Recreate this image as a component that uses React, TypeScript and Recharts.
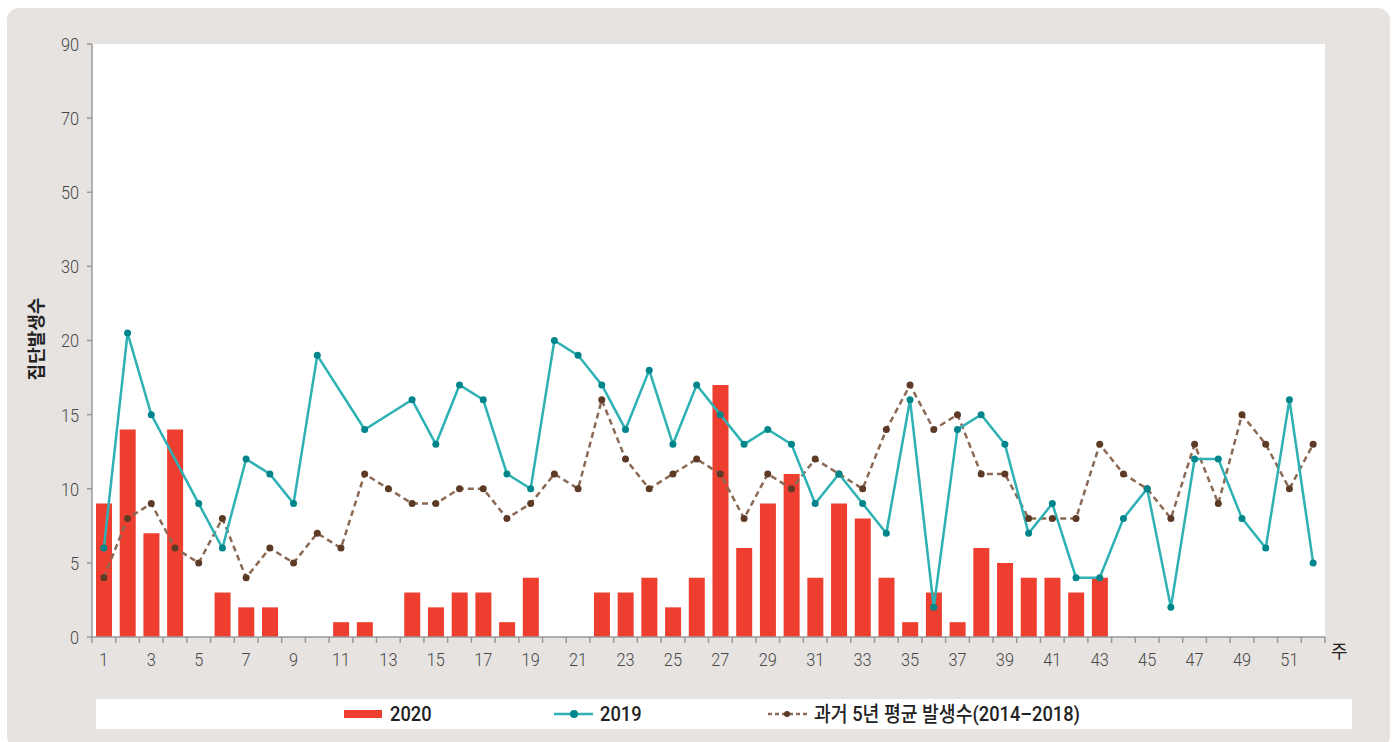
import { ComposedChart, Bar, Line, XAxis, YAxis, CartesianGrid } from 'recharts'

const weeks = Array.from({ length: 52 }, (_, i) => i + 1)

// 2020 weekly outbreaks (weeks 44+ not yet reported)
const cases2020: (number | null)[] = [
  9, 14, 7, 14, 0, 3, 2, 2, 0, 0, 1, 1, 0, 3, 2, 3, 3, 1, 4, 0,
  0, 3, 3, 4, 2, 4, 17, 6, 9, 11, 4, 9, 8, 4, 1, 3, 1, 6, 5, 4,
  4, 3, 4, null, null, null, null, null, null, null, null, null,
]

const cases2019: (number | null)[] = [
  6, 21, 15, null, 9, 6, 12, 11, 9, 19, null, 14, null, 16, 13, 17, 16, 11, 10, 20,
  19, 17, 14, 18, 13, 17, 15, 13, 14, 13, 9, 11, 9, 7, 16, 2, 14, 15, 13, 7,
  9, 4, 4, 8, 10, 2, 12, 12, 8, 6, 16, 5,
]

const avg5yr: number[] = [
  4, 8, 9, 6, 5, 8, 4, 6, 5, 7, 6, 11, 10, 9, 9, 10, 10, 8, 9, 11,
  10, 16, 12, 10, 11, 12, 11, 8, 11, 10, 12, 11, 10, 14, 17, 14, 15, 11, 11, 8,
  8, 8, 13, 11, 10, 8, 13, 9, 15, 13, 10, 13,
]

// y axis is piecewise: equal spacing between these tick values
const yTickLabels = [0, 5, 10, 15, 20, 30, 50, 70, 90]

function toAxis(v: number | null) {
  if (v == null) return null
  for (let i = 1; i < yTickLabels.length; i++) {
    const lo = yTickLabels[i - 1]
    const hi = yTickLabels[i]
    if (v <= hi) return i - 1 + (v - lo) / (hi - lo)
  }
  return yTickLabels.length - 1
}

const data = weeks.map((w, i) => ({
  week: String(w),
  c2020: toAxis(cases2020[i]),
  c2019: toAxis(cases2019[i]),
  avg: toAxis(avg5yr[i]),
}))

const tickFont = "Roboto, 'Open Sans', sans-serif"
const tickColor = '#474747'
const axisGray = '#9a9a9a'

function WeekTick(props: any) {
  const { x, y, payload, index, visibleTicksCount } = props
  const half = payload.offset ?? 0
  const axisY = y - 9
  const w = Number(payload.value)
  return (
    <g>
      <line x1={x - half} x2={x - half} y1={axisY} y2={axisY + 6} stroke={axisGray} strokeWidth={1.5} />
      {index === visibleTicksCount - 1 && (
        <line x1={x + half} x2={x + half} y1={axisY} y2={axisY + 6} stroke={axisGray} strokeWidth={1.5} />
      )}
      {w % 2 === 1 && (
        <text
          x={x}
          y={axisY + 29}
          textAnchor="middle"
          fill={tickColor}
          fontSize={19}
          fontWeight={300}
          fontFamily={tickFont}
          transform={`translate(${x} 0) scale(0.86 1) translate(${-x} 0)`}
        >
          {w}
        </text>
      )}
    </g>
  )
}

function ValueTick(props: any) {
  const { x, y, payload } = props
  return (
    <text
      x={x}
      y={y + 7}
      textAnchor="end"
      fill={tickColor}
      fontSize={19}
      fontWeight={300}
      fontFamily={tickFont}
      transform={`translate(${x} 0) scale(0.86 1) translate(${-x} 0)`}
    >
      {yTickLabels[payload.value]}
    </text>
  )
}

export default function App() {
  return (
    <div style={{ position: 'absolute', left: 0, top: 0, width: 1397, height: 742, overflow: 'hidden' }}>
      <div
        style={{
          position: 'absolute',
          left: 7,
          top: 8,
          width: 1383,
          height: 740,
          background: '#e6e3e1',
          borderRadius: 12,
        }}
      />
      <div style={{ position: 'absolute', left: 0, top: 0 }}>
        <ComposedChart
          width={1397}
          height={742}
          data={data}
          margin={{ top: 44, right: 72, bottom: 75, left: 30 }}
          barSize={16}
        >
          <CartesianGrid horizontal={false} vertical={false} fill="#ffffff" stroke="none" />
          <XAxis
            dataKey="week"
            interval={0}
            height={30}
            tickLine={false}
            tickSize={5}
            tickMargin={4}
            axisLine={{ stroke: axisGray, strokeWidth: 1.5 }}
            tick={<WeekTick />}
            label={{ value: '주', position: 'right', offset: 6, fill: '#222', fontSize: 18, fontFamily: "'Noto Sans CJK KR', sans-serif" }}
          />
          <YAxis
            width={62}
            domain={[0, yTickLabels.length - 1]}
            ticks={yTickLabels.map((_, i) => i)}
            interval={0}
            tickSize={5}
            tickMargin={8}
            axisLine={{ stroke: axisGray, strokeWidth: 1.5 }}
            tickLine={{ stroke: axisGray, strokeWidth: 1.5 }}
            tick={<ValueTick />}
          />
          <Bar dataKey="c2020" fill="#ee3e2f" isAnimationActive={false} />
          <Line
            dataKey="avg"
            stroke="#8b6a55"
            strokeWidth={2.5}
            strokeDasharray="6 4"
            dot={{ r: 3.5, fill: '#5c3a26', stroke: 'none', strokeDasharray: '' }}
            isAnimationActive={false}
          />
          <Line
            dataKey="c2019"
            stroke="#2db1b4"
            strokeWidth={2.5}
            connectNulls
            dot={{ r: 3.5, fill: '#00858a', stroke: 'none' }}
            isAnimationActive={false}
          />
        </ComposedChart>
      </div>
      <div
        style={{
          position: 'absolute',
          left: 25,
          top: 339,
          transform: 'translate(-50%, -50%) rotate(-90deg)',
          whiteSpace: 'nowrap',
          fontFamily: "'Noto Sans CJK KR', sans-serif",
          fontWeight: 700,
          fontSize: 18,
          color: '#222',
          transformOrigin: 'center',
          marginLeft: 10,
        }}
      >
        집단발생수
      </div>
      <div style={{ position: 'absolute', left: 96, top: 699, width: 1256, height: 30, background: '#fff' }}>
        <LegendItem left={248} label="2020">
          <rect x={0} y={11} width={38} height={8} fill="#ee3e2f" />
        </LegendItem>
        <LegendItem left={458} label="2019">
          <line x1={0} x2={39} y1={15} y2={15} stroke="#2db1b4" strokeWidth={2.5} />
          <circle cx={20} cy={15} r={4} fill="#00858a" />
        </LegendItem>
        <LegendItem left={672} label="과거 5년 평균 발생수(2014–2018)">
          <line x1={0} x2={39} y1={15} y2={15} stroke="#8b6a55" strokeWidth={2.5} strokeDasharray="4 3" />
          <circle cx={19} cy={15} r={3} fill="#5c3a26" />
        </LegendItem>
      </div>
    </div>
  )
}

function LegendItem({
  left,
  label,
  children,
}: {
  left: number
  label: string
  children: React.ReactNode
}) {
  return (
    <div style={{ position: 'absolute', left, top: 0, height: 30 }}>
      <svg width={40} height={30} style={{ position: 'absolute', left: 0, top: 0 }}>
        {children}
      </svg>
      <span
        style={{
          position: 'absolute',
          left: 46,
          top: 1,
          lineHeight: '28px',
          fontFamily: "Roboto, 'Noto Sans CJK KR', sans-serif",
          fontWeight: 500,
          fontSize: 21,
          color: '#222',
          whiteSpace: 'nowrap',
          transform: 'scaleX(0.87)',
          transformOrigin: 'left center',
        }}
      >
        {label}
      </span>
    </div>
  )
}
